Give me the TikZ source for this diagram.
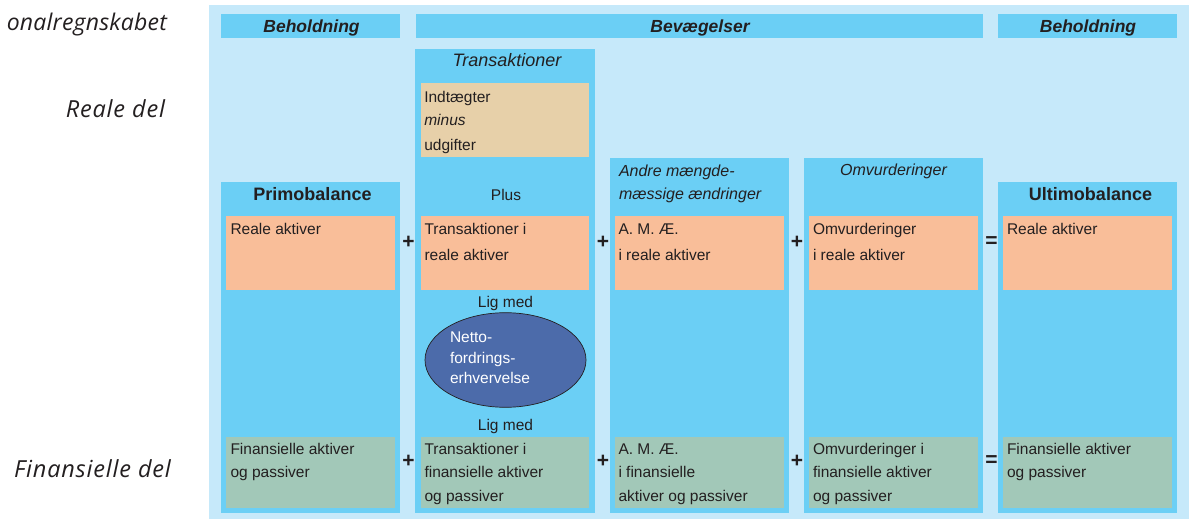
\documentclass[tikz,border=0pt]{standalone}
\usepackage{fontspec}
\setmainfont{Liberation Sans}
\newfontfamily\lblfont{Open Sans}[LetterSpace=3.5]
\newfontfamily\lblfonttight{Open Sans}[LetterSpace=1.0]
\usetikzlibrary{shapes.geometric}
\definecolor{panelblue}{HTML}{C6E9FA}
\definecolor{colblue}{HTML}{6BCFF5}
\definecolor{tanbox}{HTML}{E7D0A9}
\definecolor{orangebox}{HTML}{F9BE99}
\definecolor{greenbox}{HTML}{A2C8B8}
\definecolor{ellblue}{HTML}{4C6BAA}
\definecolor{txtc}{HTML}{231F20}
\newcommand\mybox[6]{\node[rbox,fill=#2,minimum width={(#5-#3)*1pt},minimum height={(#6-#4)*1pt}] (#1) at (#3,#4) {};}
\tikzset{
  rbox/.style={inner sep=0pt,outer sep=0pt,anchor=north west,draw=none,shape=rectangle},
  txt/.style={inner sep=0pt,outer sep=0pt,text=txtc,font=\fontsize{15.5}{19}\selectfont,anchor=base west},
  ctxt/.style={txt,anchor=base},
  head/.style={inner sep=0pt,outer sep=0pt,text=txtc,font=\fontsize{17.5}{21}\selectfont\bfseries\itshape,anchor=base},
  bighead/.style={inner sep=0pt,outer sep=0pt,text=txtc,font=\fontsize{18}{22}\selectfont\bfseries,anchor=base},
  ithead/.style={inner sep=0pt,outer sep=0pt,text=txtc,font=\fontsize{16}{20}\selectfont\itshape},
  op/.style={inner sep=0pt,outer sep=0pt,text=txtc,font=\fontsize{21}{24}\selectfont\bfseries,anchor=center},
  lbl/.style={inner sep=0pt,outer sep=0pt,text=txtc,font=\fontsize{23.5}{28}\selectfont\lblfont\itshape,anchor=base east},
  etxt/.style={inner sep=0pt,outer sep=0pt,text=white,font=\fontsize{15.5}{19}\selectfont,anchor=base west},
}
\begin{document}
\begin{tikzpicture}[x=1pt,y=-1pt]
\useasboundingbox (0,0) rectangle (1191,519);
% left labels
\node[lbl,font=\fontsize{23}{28}\selectfont\lblfonttight\itshape] (lnat) at (167,31) {onalregnskabet};
\node[lbl] (lreal) at (165,117) {Reale del};
\node[lbl] (lfin) at (171,477.3) {Finansielle del};
% panel
\mybox{panel}{panelblue}{209}{5}{1189.3}{519}
% header bars
\mybox{hb1}{colblue}{221}{14}{400}{38}
\mybox{hb2}{colblue}{416}{14}{983}{38}
\mybox{hb3}{colblue}{998}{14}{1177}{38}
\node[head] (th1) at (311.5,32.5) {Beholdning};
\node[head] (th2) at (700,32.5) {Bevægelser};
\node[head] (th3) at (1088,32.5) {Beholdning};
% columns
\mybox{c1}{colblue}{221}{182}{400}{512.5}
\mybox{c2}{colblue}{415}{49}{595}{512.5}
\mybox{c3}{colblue}{610}{158}{789}{512.5}
\mybox{c4}{colblue}{804}{158}{983}{512.5}
\mybox{c5}{colblue}{998}{182}{1177}{512.5}
% column titles
\node[ithead,font=\fontsize{18}{22}\selectfont\itshape,anchor=base] (tt2) at (507,66.5) {Transaktioner};
\node[bighead] (tt1) at (312.5,200) {Primobalance};
\node[ctxt] (tplus) at (506,200) {Plus};
\node[ithead,anchor=base west] (tt3a) at (619,176.7) {Andre mængde-};
\node[ithead,anchor=base west] (tt3b) at (619,199.3) {mæssige ændringer};
\node[ithead,anchor=base] (tt4) at (893.5,175.7) {Omvurderinger};
\node[bighead] (tt5) at (1090.5,200) {Ultimobalance};
% tan box
\mybox{tan}{tanbox}{421}{83}{589}{157}
\node[txt] (tan1) at (424.3,102) {Indtægter};
\node[txt] (tan2) at (424.3,125.5) {\itshape minus};
\node[txt] (tan3) at (424.3,150) {udgifter};
% orange boxes
\mybox{o1}{orangebox}{226}{216}{395}{290}
\mybox{o2}{orangebox}{421}{216}{589}{290}
\mybox{o3}{orangebox}{615}{216}{784}{290}
\mybox{o4}{orangebox}{809}{216}{978}{290}
\mybox{o5}{orangebox}{1003}{216}{1172}{290}
\node[txt] (o1a) at (230.5,234) {Reale aktiver};
\node[txt] (o2a) at (424.5,234) {Transaktioner i};
\node[txt] (o2b) at (424.5,260) {reale aktiver};
\node[txt] (o3a) at (618.5,234) {A. M. Æ.};
\node[txt] (o3b) at (618.5,260) {i reale aktiver};
\node[txt] (o4a) at (813,234) {Omvurderinger};
\node[txt] (o4b) at (813,260) {i reale aktiver};
\node[txt] (o5a) at (1007,234) {Reale aktiver};
% green boxes
\mybox{g1}{greenbox}{226}{437.3}{395}{507.7}
\mybox{g2}{greenbox}{421}{437.3}{589}{507.7}
\mybox{g3}{greenbox}{615}{437.3}{784}{507.7}
\mybox{g4}{greenbox}{809}{437.3}{978}{507.7}
\mybox{g5}{greenbox}{1003}{437.3}{1172}{507.7}
\node[txt] (g1a) at (230.5,454) {Finansielle aktiver};
\node[txt] (g1b) at (230.5,477.7) {og passiver};
\node[txt] (g2a) at (424.5,454) {Transaktioner i};
\node[txt] (g2b) at (424.5,477.7) {finansielle aktiver};
\node[txt] (g2c) at (424.5,501.7) {og passiver};
\node[txt] (g3a) at (618.5,454) {A. M. Æ.};
\node[txt] (g3b) at (618.5,477.7) {i finansielle};
\node[txt] (g3c) at (618.5,501.7) {aktiver og passiver};
\node[txt] (g4a) at (813,454) {Omvurderinger i};
\node[txt] (g4b) at (813,477.7) {finansielle aktiver};
\node[txt] (g4c) at (813,501.7) {og passiver};
\node[txt] (g5a) at (1007,454) {Finansielle aktiver};
\node[txt] (g5b) at (1007,477.7) {og passiver};
% operators
\node[op] (p1) at (408.5,242) {+};
\node[op] (p2) at (603,242) {+};
\node[op] (p3) at (797,242) {+};
\node[op] (e1) at (991.5,242) {=};
\node[op] (p4) at (408.5,461) {+};
\node[op] (p5) at (603,461) {+};
\node[op] (p6) at (797,461) {+};
\node[op] (e2) at (991.5,461) {=};
% Lig med + ellipse
\node[ctxt] (lig1) at (505.5,307.3) {Lig med};
\node[ctxt] (lig2) at (505.5,430) {Lig med};
\node[ellipse,draw=txtc,line width=0.7pt,fill=ellblue,minimum width=161pt,minimum height=94.6pt,inner sep=0pt] (nfe) at (505.5,360) {};
\node[etxt] (nfe1) at (450,342.7) {Netto-};
\node[etxt] (nfe2) at (450,363.3) {fordrings-};
\node[etxt] (nfe3) at (450,383.5) {erhvervelse};
\end{tikzpicture}
\end{document}
